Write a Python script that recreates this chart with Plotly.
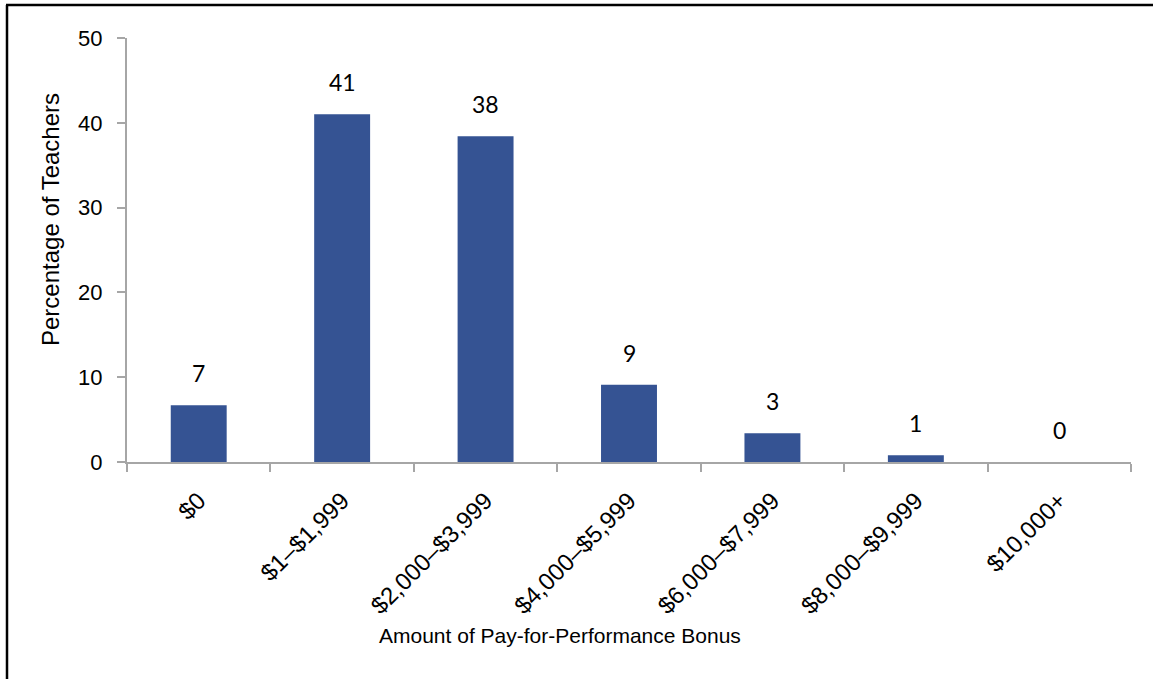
import plotly.graph_objects as go

categories = ["$0", "$1–$1,999", "$2,000–$3,999", "$4,000–$5,999",
              "$6,000–$7,999", "$8,000–$9,999", "$10,000+"]
values = [6.7, 41.0, 38.4, 9.1, 3.4, 0.8, 0.0]
labels = ["7", "41", "38", "9", "3", "1", "0"]

y_ticks = [0, 10, 20, 30, 40, 50]
x_title = "Amount of Pay-for-Performance Bonus"
y_title = "Percentage of Teachers"

W, H = 1153, 679
ML, MR, MT, MB = 127, 22, 38, 217
PW, PH = W - ML - MR, H - MT - MB

def px_x(px):
    return (px - ML) / PW

def px_y(py):
    return (H - MB - py) / PH

axis_col = "#A6A6A6"
bar_col = "#355393"

fig = go.Figure()
fig.add_trace(go.Bar(
    x=categories, y=values,
    marker=dict(color=bar_col, line=dict(color="#6F84B4", width=0)),
    width=0.39, hoverinfo="x+y",
))

annotations = []
for c, v, t in zip(categories, values, labels):
    annotations.append(dict(
        x=c, y=v, xref="x", yref="y", text=t, showarrow=False,
        yanchor="bottom", yshift=16,
        font=dict(family="Lato, Open Sans, sans-serif", size=23, color="#000000"),
    ))

annotations.append(dict(
    x=px_x(560), y=px_y(635), xref="paper", yref="paper", text=x_title,
    showarrow=False, xanchor="center", yanchor="middle",
    font=dict(family="Liberation Sans, Arial, sans-serif", size=21, color="#000000"),
))
annotations.append(dict(
    x=px_x(51), y=px_y(220), xref="paper", yref="paper", text=y_title,
    showarrow=False, xanchor="center", yanchor="middle", textangle=-90,
    font=dict(family="Liberation Sans, Arial, sans-serif", size=24, color="#000000"),
))

shapes = [
    dict(type="line", xref="paper", yref="paper",
         x0=px_x(7), x1=px_x(7), y0=px_y(5), y1=px_y(700),
         line=dict(color="#000000", width=2.5)),
    dict(type="line", xref="paper", yref="paper",
         x0=px_x(6), x1=px_x(1200), y0=px_y(5), y1=px_y(5),
         line=dict(color="#000000", width=2.5)),
]

fig.update_layout(
    width=W, height=H,
    margin=dict(l=ML, r=MR, t=MT, b=MB, autoexpand=False),
    paper_bgcolor="#FFFFFF", plot_bgcolor="#FFFFFF",
    showlegend=False,
    annotations=annotations,
    shapes=shapes,
    font=dict(family="Liberation Sans, Arial, sans-serif", size=20, color="#000000"),
    xaxis=dict(
        type="category", tickson="boundaries", ticks="outside", ticklen=8,
        tickcolor=axis_col, tickwidth=2, showline=True, linecolor=axis_col,
        linewidth=2, showgrid=False, tickangle=-45,
        tickfont=dict(family="Liberation Sans, Arial, sans-serif", size=24),
        ticklabelstandoff=13,
        range=[-0.5, 6.5], fixedrange=True,
    ),
    yaxis=dict(
        range=[0, 50], tickvals=y_ticks, ticks="outside", ticklen=8,
        tickcolor=axis_col, tickwidth=2, showline=True, linecolor=axis_col,
        linewidth=2, showgrid=False, zeroline=False,
        tickfont=dict(family="Liberation Sans, Arial, sans-serif", size=22),
        ticklabelstandoff=10, fixedrange=True,
    ),
)

fig.write_html("out.html", config={"displayModeBar": False},
               post_script="document.body.style.margin='0';document.body.style.overflow='hidden';")
